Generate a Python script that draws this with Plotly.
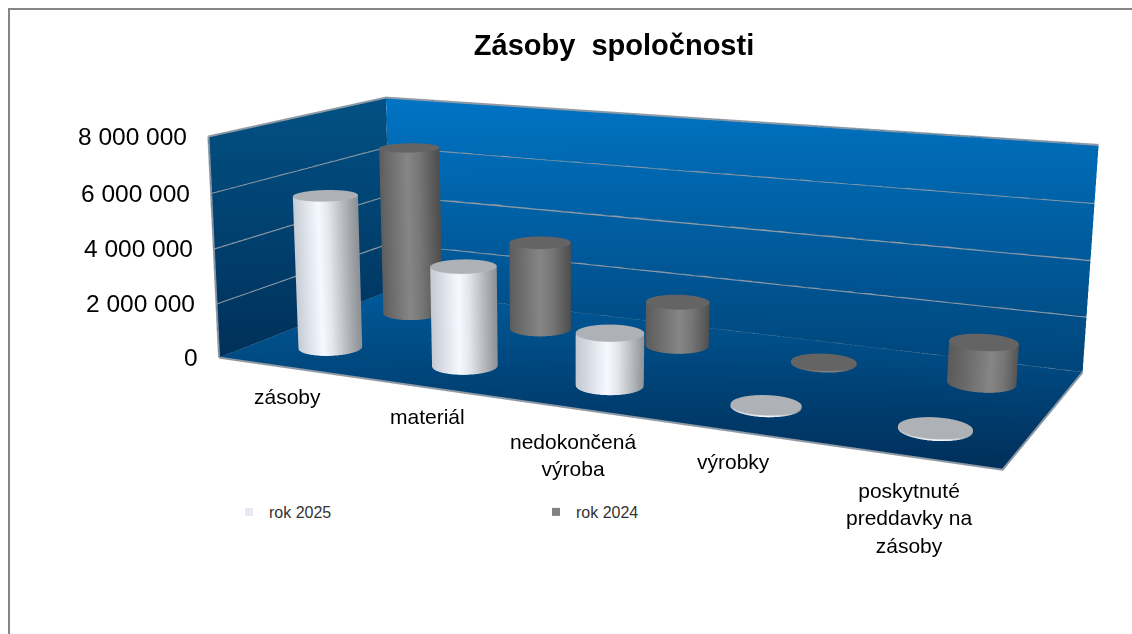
import numpy as np
import plotly.graph_objects as go

categories = ["zásoby", "materiál", "nedokončená<br>výroba", "výrobky", "poskytnuté<br>preddavky na<br>zásoby"]
rok_2025 = [5650000, 3600000, 1850000, 60000, 60000]
rok_2024 = [6560000, 3350000, 1650000, 60000, 1450000]
z_ticks = [0, 2000000, 4000000, 6000000, 8000000]
z_tick_labels = ["0", "2 000 000", "4 000 000", "6 000 000", "8 000 000"]
label_yshift = [-16, -16, -20, -17, -21]
label_xshift = [3, 5, 1, 0, 0]

# Camera fitted to the reference's perspective
ey = np.array([3.1947, -7.2477, 1.7054])
ce = np.array([0.0801, -0.9131, -0.0831])
ax, ay = 3.5304, 1.4678
FOCAL = 1853.8
f_ = (ce - ey) / np.linalg.norm(ce - ey)
right = np.array([f_[1], -f_[0], 0.0])
right = right / np.linalg.norm(right)

L = dict(ambient=1, diffuse=0, specular=0, roughness=1, fresnel=0)
ZMAX = 8000000
NCAT = len(categories)
WHITE = [[0, "#c3c9d2"], [0.45, "#f6f9ff"], [0.6, "#e4e7ec"], [1, "#8e9196"]]
GRAY = [[0, "#5c5c5c"], [0.5, "#868686"], [0.7, "#767676"], [1, "#4e4e4e"]]
R = 0.145
LINE = "#8f9aa5"

fig = go.Figure()
fig.add_trace(go.Surface(x=[[0, NCAT], [0, NCAT]], y=[[0, 0], [2, 2]], z=[[0, 0], [0, 0]],
    surfacecolor=[[0.65, 0], [1, .57]], cmin=0, cmax=1,
    colorscale=[[0, "#002f5a"], [1, "#005a9a"]], showscale=False, lighting=L, hoverinfo="skip"))
fig.add_trace(go.Surface(x=[[0, NCAT], [0, NCAT]], y=[[2, 2], [2, 2]], z=[[0, 0], [ZMAX, ZMAX]],
    surfacecolor=[[.3, 0], [1, .82]], cmin=0, cmax=1,
    colorscale=[[0, "#00457a"], [1, "#0074c4"]], showscale=False, lighting=L, hoverinfo="skip"))
fig.add_trace(go.Surface(x=[[0, 0], [0, 0]], y=[[0, 2], [0, 2]], z=[[0, 0], [ZMAX, ZMAX]],
    surfacecolor=[[0, .3], [.85, 1]], cmin=0, cmax=1,
    colorscale=[[0, "#00305a"], [1, "#025184"]], showscale=False, lighting=L, hoverinfo="skip"))
for z in z_ticks:
    fig.add_trace(go.Scatter3d(x=[0, 0, NCAT], y=[0, 2, 2], z=[z, z, z], mode="lines",
        line=dict(color=LINE, width=4), showlegend=False, hoverinfo="skip"))
fig.add_trace(go.Scatter3d(x=[0, NCAT, NCAT], y=[0, 0, 2], z=[0, 0, 0], mode="lines",
    line=dict(color=LINE, width=4), showlegend=False, hoverinfo="skip"))
fig.add_trace(go.Scatter3d(x=[0, 0], y=[0, 0], z=[0, ZMAX], mode="lines",
    line=dict(color=LINE, width=4), showlegend=False, hoverinfo="skip"))

th = np.linspace(0, 2 * np.pi, 73)
rx = R * NCAT / ax
ry = R * 2 / ay


def cyl(i, row, h, scale, cap):
    cx = i + .5
    X = np.vstack([cx + rx * np.cos(th)] * 2)
    Y = np.vstack([row + ry * np.sin(th)] * 2)
    Z = np.vstack([np.zeros_like(th), np.full_like(th, h)])
    s = right[0] * np.cos(th) + right[1] * np.sin(th)
    fig.add_trace(go.Surface(x=X, y=Y, z=Z, surfacecolor=np.vstack([s, s]), cmin=-1, cmax=1,
        colorscale=scale, showscale=False, lighting=L, hoverinfo="skip"))
    rr = np.array([0, 1.0])
    XC = cx + np.outer(rr, rx * np.cos(th))
    YC = row + np.outer(rr, ry * np.sin(th))
    fig.add_trace(go.Surface(x=XC, y=YC, z=np.full_like(XC, h), surfacecolor=np.zeros_like(XC), cmin=0, cmax=1,
        colorscale=[[0, cap], [1, cap]], showscale=False, lighting=L, hoverinfo="skip"))


for i, h in enumerate(rok_2024):
    cyl(i, 1.5, h, GRAY, "#646464")
for i, h in enumerate(rok_2025):
    cyl(i, 0.5, h, WHITE, "#aeb2b6")
fig.add_trace(go.Scatter3d(x=[np.nan], y=[np.nan], z=[np.nan], mode="markers",
    marker=dict(symbol="square", size=8, color="#e6ebf2"), name="rok 2025"))
fig.add_trace(go.Scatter3d(x=[np.nan], y=[np.nan], z=[np.nan], mode="markers",
    marker=dict(symbol="square", size=8, color="#828282"), name="rok 2024"))

ann = []
for z, t in zip(z_ticks, z_tick_labels):
    ann.append(dict(x=0, y=0, z=z, text=t, showarrow=False, xanchor="right", yanchor="middle", xshift=-19,
        font=dict(family="Liberation Sans", size=24.5, color="#000")))
for i, c in enumerate(categories):
    ann.append(dict(x=i + .5, y=0, z=0, text=c, showarrow=False, xanchor="center", yanchor="top",
        xshift=label_xshift[i], yshift=label_yshift[i],
        font=dict(family="Liberation Sans", size=21, color="#000")))

W, H = 1124, 626
fig.update_layout(width=W, height=H, margin=dict(l=0, r=0, t=0, b=0), paper_bgcolor="white",
    title=dict(text="<b>Zásoby&nbsp;&nbsp;spoločnosti</b>", x=606 / W, xanchor="center", y=1 - 37 / H, yanchor="middle",
        font=dict(family="Liberation Sans", size=29, color="#000")),
    legend=dict(orientation="h", x=221 / W, y=1 - 504 / H, yanchor="middle", xanchor="left", entrywidth=262,
        entrywidthmode="pixels", font=dict(family="Liberation Sans", size=16, color="#333")),
    shapes=[dict(type="line", xref="paper", yref="paper", x0=1 / W, x1=1 / W, y0=0, y1=1, line=dict(color="#868686", width=2)),
            dict(type="line", xref="paper", yref="paper", x0=0, x1=1, y0=1 - 1 / H, y1=1 - 1 / H, line=dict(color="#868686", width=2))],
    scene=dict(domain=dict(x=[0, 1], y=[0, 1]), annotations=ann,
        xaxis=dict(visible=False, range=[0, NCAT]), yaxis=dict(visible=False, range=[0, 2]), zaxis=dict(visible=False, range=[0, ZMAX]),
        aspectmode="manual", aspectratio=dict(x=ax, y=ay, z=1),
        camera=dict(eye=dict(x=float(ey[0]), y=float(ey[1]), z=float(ey[2])),
                    center=dict(x=float(ce[0]), y=float(ce[1]), z=float(ce[2])),
                    up=dict(x=0, y=0, z=1), projection=dict(type="perspective"))))
fovy = 2 * np.arctan((H / 2) / FOCAL)
post = ("document.documentElement.style.overflow='hidden';document.body.style.margin='8px 0 0 8px';"
        "document.body.style.overflow='visible';document.body.style.width='1124px';"
        "var gd=document.getElementById('{plot_id}');var g=gd._fullLayout.scene._scene.glplot;g.fovy=%f;g.redraw();" % fovy)
fig.write_html("out.html", post_script=post)
